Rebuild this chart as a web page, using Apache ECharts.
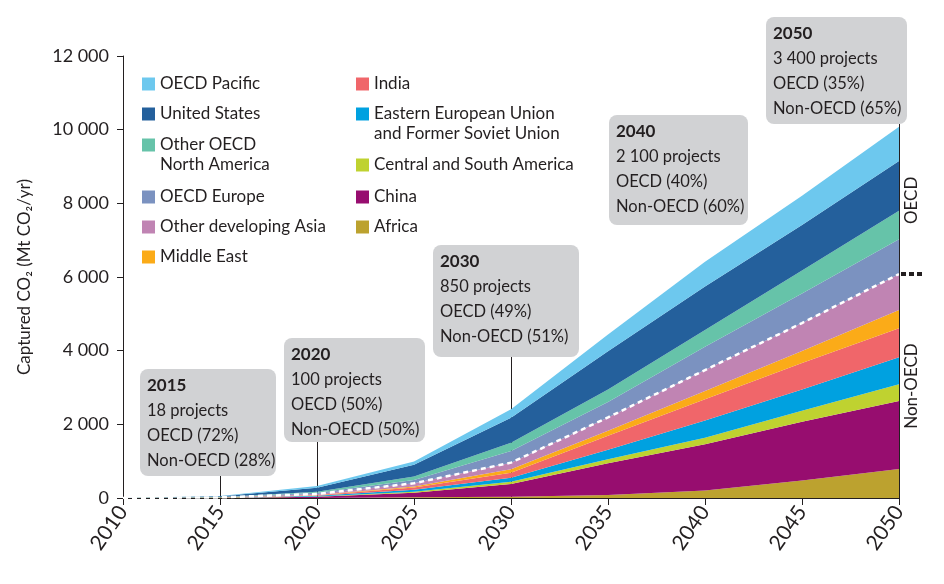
<!DOCTYPE html>
<html>
<head>
<meta charset="utf-8">
<script src="https://cdn.jsdelivr.net/npm/echarts@6/dist/echarts.min.js"></script>
<style>
html,body{margin:0;padding:0;background:#fff;}
#chart{width:944px;height:584px;}
</style>
</head>
<body>
<div id="chart"></div>
<script>
// ---- data ----
const years = ['2010', '2015', '2020', '2025', '2030', '2035', '2040', '2045', '2050'];
const africa      = [0, 0, 3, 19, 35, 79, 204, 475, 787];
const china       = [0, 3, 28, 125, 345, 863, 1257, 1594, 1846];
const centralSouthAmerica = [0, 1, 8, 27, 62, 111, 176, 299, 454];
const easternEuropeFSU    = [0, 4, 20, 50, 110, 258, 464, 578, 733];
const india       = [0, 2, 15, 62, 136, 380, 578, 717, 787];
const middleEast  = [0, 3, 10, 27, 90, 133, 225, 326, 497];
const otherDevelopingAsia = [0, 4, 25, 90, 182, 364, 570, 760, 977];
const oecdEurope  = [0, 6, 35, 92, 315, 421, 633, 801, 942];
const otherOecdNorthAmerica = [0, 5, 27, 90, 228, 337, 456, 624, 777];
const unitedStates = [0, 20, 109, 318, 679, 1040, 1178, 1235, 1349];
const oecdPacific = [0, 6, 46, 90, 225, 450, 673, 798, 932];

const yTicks = [0, 2000, 4000, 6000, 8000, 10000, 12000];

const boxYears = ['2015', '2020', '2030', '2040', '2050'];
const boxProjects = ['18 projects', '100 projects', '850 projects', '2 100 projects', '3 400 projects'];
const boxOECD = ['OECD (72%)', 'OECD (50%)', 'OECD (49%)', 'OECD (40%)', 'OECD (35%)'];
const boxNonOECD = ['Non-OECD (28%)', 'Non-OECD (50%)', 'Non-OECD (51%)', 'Non-OECD (60%)', 'Non-OECD (65%)'];

// ---- styles / layout ----
const FONT = 'Lato';
const TXT = '#231F20';
const seriesDefs = [
  ['Africa', africa, '#BCA22F'],
  ['China', china, '#970D6F'],
  ['Central and South America', centralSouthAmerica, '#BFD230'],
  ['Eastern European Union and Former Soviet Union', easternEuropeFSU, '#00A1E0'],
  ['India', india, '#F0666A'],
  ['Middle East', middleEast, '#FBAB18'],
  ['Other developing Asia', otherDevelopingAsia, '#C084B3'],
  ['OECD Europe', oecdEurope, '#7B92C0'],
  ['Other OECD North America', otherOecdNorthAmerica, '#66C3A9'],
  ['United States', unitedStates, '#24609C'],
  ['OECD Pacific', oecdPacific, '#6DC8EE']
];
const nonOecdSeries = [africa, china, centralSouthAmerica, easternEuropeFSU, india, middleEast, otherDevelopingAsia];
const nonOecdTotal = years.map((y, i) => nonOecdSeries.reduce((s, a) => s + a[i], 0));
const oecdSeries = [oecdEurope, otherOecdNorthAmerica, unitedStates, oecdPacific];
const total = years.map((y, i) => nonOecdTotal[i] + oecdSeries.reduce((s, a) => s + a[i], 0));

// legend layout: [name, left, iconCenterY, twoLine]
const legendLayout = [
  ['OECD Pacific', 142, 84, false],
  ['United States', 142, 114, false],
  ['Other OECD North America', 142, 145, true],
  ['OECD Europe', 142, 197, false],
  ['Other developing Asia', 142, 227, false],
  ['Middle East', 142, 257, false],
  ['India', 356, 84, false],
  ['Eastern European Union and Former Soviet Union', 356, 114, true],
  ['Central and South America', 356, 165, false],
  ['China', 356, 197, false],
  ['Africa', 356, 227, false]
];
const legendLabel = {
  'Other OECD North America': '\nOther OECD\nNorth America',
  'Eastern European Union and Former Soviet Union': '\nEastern European Union\nand Former Soviet Union'
};
const boxRects = [[140, 369, 136, 107], [284, 338, 141, 104], [433, 245, 146, 112], [609, 115, 139, 110], [766, 17, 141, 107]];
const leaderYearIdx = [1, 2, 4, 8];
const leaderBoxIdx = [0, 1, 2, 4];

const chart = echarts.init(document.getElementById('chart'), null, {renderer: 'canvas'});

const series = seriesDefs.map(([name, vals, color]) => ({
  name: name,
  type: 'line',
  stack: 'total',
  data: vals,
  symbol: 'none',
  smooth: false,
  lineStyle: {width: 0},
  areaStyle: {color: color, opacity: 1},
  itemStyle: {color: color},
  z: 2
}));
series.push({
  name: 'divider',
  type: 'line',
  data: nonOecdTotal,
  symbol: 'none',
  lineStyle: {color: '#ffffff', width: 2.5, type: [5, 4]},
  z: 3,
  silent: true
});

const legends = legendLayout.map(([name, left, cy, two]) => ({
  data: [name],
  left: left,
  top: two ? cy - 30 : cy - 10,
  padding: 0,
  icon: 'rect',
  itemWidth: 13,
  itemHeight: 13,
  itemGap: 0,
  selectedMode: false,
  formatter: n => legendLabel[n] || n,
  textStyle: {fontFamily: FONT, fontSize: 17, color: TXT, lineHeight: 20}
}));

const option = {
  animation: false,
  backgroundColor: '#ffffff',
  grid: {left: 123, right: 45, top: 56, bottom: 86},
  legend: legends,
  xAxis: {
    type: 'category', data: years, boundaryGap: false,
    axisLine: {lineStyle: {color: TXT, width: 1}},
    axisTick: {length: 7, interval: 0, lineStyle: {color: TXT}},
    axisLabel: {rotate: 55, interval: 0, fontFamily: FONT, fontSize: 21, color: TXT, margin: 10},
    splitLine: {show: false}
  },
  yAxis: {
    type: 'value', min: yTicks[0], max: yTicks[yTicks.length - 1], interval: 2000,
    name: 'Captured CO\u2082 (Mt CO\u2082/yr)', nameLocation: 'middle', nameGap: 90,
    nameTextStyle: {fontFamily: FONT, fontSize: 17, color: TXT},
    axisLine: {show: true, lineStyle: {color: TXT, width: 1}},
    axisTick: {show: true, length: 6, lineStyle: {color: TXT}},
    axisLabel: {fontFamily: FONT, fontSize: 18, color: TXT, margin: 14,
      formatter: v => v === 0 ? '0' : (Math.floor(v / 1000) + ' ' + String(v % 1000).padStart(3, '0'))},
    splitLine: {show: false}
  },
  series: series
};
chart.setOption(option);

// ---- annotations ----
const graphics = [];
boxRects.forEach((r, i) => {
  graphics.push({
    type: 'rect', z: 10,
    shape: {x: r[0], y: r[1], width: r[2], height: r[3], r: 8},
    style: {fill: '#D1D2D4'}
  });
  graphics.push({
    type: 'text', z: 11, x: r[0] + 7, y: r[1] + 4.5,
    style: {
      text: '{b|' + boxYears[i] + '}\n{n|' + boxProjects[i] + '}\n{n|' + boxOECD[i] + '}\n{n|' + boxNonOECD[i] + '}',
      rich: {
        b: {fontFamily: FONT, fontWeight: 'bold', fontSize: 17, lineHeight: 25, fill: TXT},
        n: {fontFamily: FONT, fontSize: 16.5, lineHeight: 25, fill: TXT}
      },
      fill: TXT, align: 'left', verticalAlign: 'top'
    }
  });
});
const y0 = chart.convertToPixel({gridIndex: 0}, [0, 0])[1];
leaderYearIdx.forEach((idx, k) => {
  const px = chart.convertToPixel({gridIndex: 0}, [idx, 0])[0];
  const r = boxRects[leaderBoxIdx[k]];
  graphics.push({
    type: 'line', z: idx === years.length - 1 ? 12 : 1,
    shape: {x1: Math.round(px) + 0.5, y1: r[1] + r[3], x2: Math.round(px) + 0.5, y2: y0},
    style: {stroke: TXT, lineWidth: 1}
  });
});
const last = years.length - 1;
const pEnd = chart.convertToPixel({gridIndex: 0}, [last, nonOecdTotal[last]]);
graphics.push({
  type: 'line', z: 12,
  shape: {x1: pEnd[0] + 2, y1: pEnd[1], x2: pEnd[0] + 24, y2: pEnd[1]},
  style: {stroke: TXT, lineWidth: 4, lineDash: [5, 3]}
});
const pO = chart.convertToPixel({gridIndex: 0}, [last, (nonOecdTotal[last] + total[last]) / 2]);
const pN = chart.convertToPixel({gridIndex: 0}, [last, nonOecdTotal[last] / 2]);
graphics.push({
  type: 'text', z: 12, x: pO[0] + 13, y: pO[1], rotation: Math.PI / 2,
  style: {text: 'OECD', fontFamily: FONT, fontSize: 17, fill: TXT, align: 'center', verticalAlign: 'middle'}
});
graphics.push({
  type: 'text', z: 12, x: pN[0] + 13, y: pN[1], rotation: Math.PI / 2,
  style: {text: 'Non-OECD', fontFamily: FONT, fontSize: 17, fill: TXT, align: 'center', verticalAlign: 'middle'}
});
chart.setOption({graphic: graphics});
</script>
</body>
</html>
